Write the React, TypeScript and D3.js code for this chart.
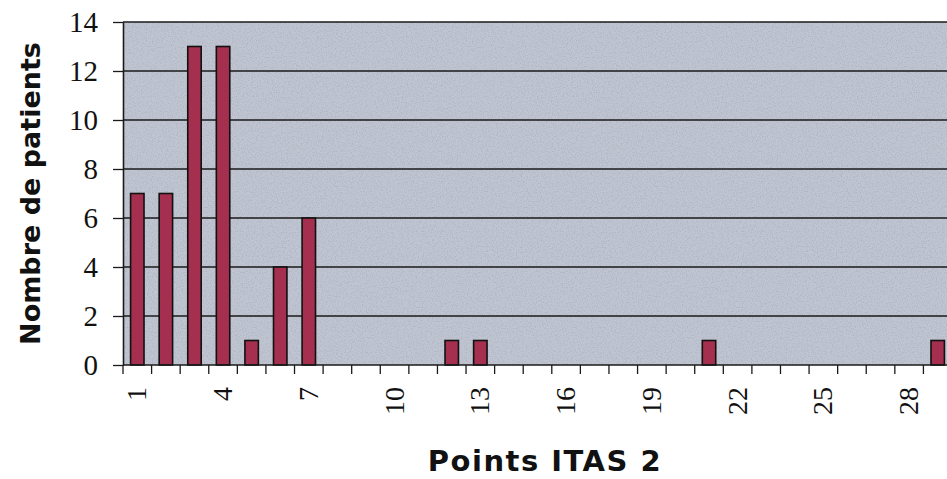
import { useEffect, useRef } from 'react';
import * as d3 from 'd3';

// score ITAS 2 (1..29) and number of patients per score
const scores = d3.range(1, 30);
const patients = [7, 7, 13, 13, 1, 4, 6, 0, 0, 0, 0, 1, 1, 0, 0, 0, 0, 0, 0, 0, 1, 0, 0, 0, 0, 0, 0, 0, 1];
const yTicks = [0, 2, 4, 6, 8, 10, 12, 14];
const xLabels = [1, 4, 7, 10, 13, 16, 19, 22, 25, 28];

const width = 947;
const height = 479;
const margin = { top: 22, right: -5, bottom: 114, left: 123 };

export default function App() {
  const svgRef = useRef<SVGSVGElement>(null);

  useEffect(() => {
    if (!svgRef.current) return;
    const svg = d3.select(svgRef.current);
    svg.selectAll('*').remove();

    const x = d3
      .scaleBand<number>()
      .domain(scores)
      .range([margin.left, width - margin.right])
      .padding(0);
    const y = d3
      .scaleLinear()
      .domain([0, 14])
      .range([height - margin.bottom, margin.top]);

    const defs = svg.append('defs');
    const filter = defs
      .append('filter')
      .attr('id', 'grain')
      .attr('x', 0)
      .attr('y', 0)
      .attr('width', 1)
      .attr('height', 1);
    filter
      .append('feTurbulence')
      .attr('type', 'fractalNoise')
      .attr('baseFrequency', 0.8)
      .attr('numOctaves', 2)
      .attr('seed', 3);
    filter
      .append('feColorMatrix')
      .attr('type', 'matrix')
      .attr('values', '0 0 0 0 0.40  0 0 0 0 0.43  0 0 0 0 0.52  0 0 0 3 -1.35');

    // plot background
    const plotW = width - margin.right - margin.left;
    const plotH = y(0) - y(14);
    svg
      .append('rect')
      .attr('x', margin.left)
      .attr('y', y(14))
      .attr('width', plotW)
      .attr('height', plotH)
      .attr('fill', '#c0c5d1');
    svg
      .append('rect')
      .attr('x', margin.left)
      .attr('y', y(14))
      .attr('width', plotW)
      .attr('height', plotH)
      .attr('filter', 'url(#grain)')
      .attr('opacity', 0.7);

    // gridlines
    svg
      .append('g')
      .selectAll('line')
      .data(yTicks.filter((d) => d > 0))
      .join('line')
      .attr('x1', margin.left)
      .attr('x2', width)
      .attr('y1', (d) => y(d))
      .attr('y2', (d) => y(d))
      .attr('stroke', '#1a1a1a')
      .attr('stroke-width', 1.3);

    // bars
    const bw = x.bandwidth() * 0.47;
    svg
      .append('g')
      .selectAll('rect')
      .data(scores.filter((_, i) => patients[i] > 0))
      .join('rect')
      .attr('x', (d) => x(d)! + (x.bandwidth() - bw) / 2)
      .attr('y', (d) => y(patients[d - 1]))
      .attr('width', bw)
      .attr('height', (d) => y(0) - y(patients[d - 1]))
      .attr('fill', '#a52f4e')
      .attr('stroke', '#111')
      .attr('stroke-width', 1.6);

    // y axis
    const yAxis = d3
      .axisLeft(y)
      .tickValues(yTicks)
      .tickSizeInner(10)
      .tickSizeOuter(0)
      .tickPadding(15);
    const gy = svg
      .append('g')
      .attr('transform', `translate(${margin.left},0)`)
      .call(yAxis);
    gy.select('.domain').attr('stroke', '#1a1a1a').attr('stroke-width', 1.6);
    gy.selectAll('.tick line').attr('stroke', '#1a1a1a').attr('stroke-width', 1.3);
    gy.selectAll('.tick text')
      .attr('font-family', '"Liberation Serif", "Times New Roman", serif')
      .attr('font-size', 29)
      .attr('fill', '#111');

    // x axis: ticks on the band boundaries
    svg
      .append('line')
      .attr('x1', margin.left)
      .attr('x2', width)
      .attr('y1', y(0))
      .attr('y2', y(0))
      .attr('stroke', '#1a1a1a')
      .attr('stroke-width', 1.6);
    svg
      .append('g')
      .selectAll('line')
      .data(scores)
      .join('line')
      .attr('x1', (d) => x(d)!)
      .attr('x2', (d) => x(d)!)
      .attr('y1', y(0))
      .attr('y2', y(0) + 9)
      .attr('stroke', '#1a1a1a')
      .attr('stroke-width', 1.3);
    svg
      .append('g')
      .selectAll('text')
      .data(xLabels)
      .join('text')
      .attr(
        'transform',
        (d) => `translate(${x(d)! + x.bandwidth() / 2 + 9},${y(0) + 22}) rotate(-90)`
      )
      .attr('text-anchor', 'end')
      .attr('font-family', '"Liberation Serif", "Times New Roman", serif')
      .attr('font-size', 28)
      .attr('fill', '#111')
      .text((d) => d);

    // axis titles
    svg
      .append('text')
      .attr('transform', `translate(40,${(y(0) + y(14)) / 2}) rotate(-90)`)
      .attr('text-anchor', 'middle')
      .attr('font-family', '"Comic Sans MS", "DejaVu Sans", sans-serif')
      .attr('font-weight', 'bold')
      .attr('font-size', 27)
      .attr('fill', '#111')
      .text('Nombre de patients');
    svg
      .append('text')
      .attr('x', 545)
      .attr('y', 471)
      .attr('text-anchor', 'middle')
      .attr('font-family', '"Comic Sans MS", "DejaVu Sans", sans-serif')
      .attr('font-weight', 'bold')
      .attr('font-size', 29)
      .attr('letter-spacing', 1.5)
      .attr('fill', '#111')
      .text('Points ITAS 2');
  }, []);

  return (
    <svg
      ref={svgRef}
      width={width}
      height={height}
      style={{ position: 'absolute', left: 0, top: 0, background: '#fff' }}
    />
  );
}
